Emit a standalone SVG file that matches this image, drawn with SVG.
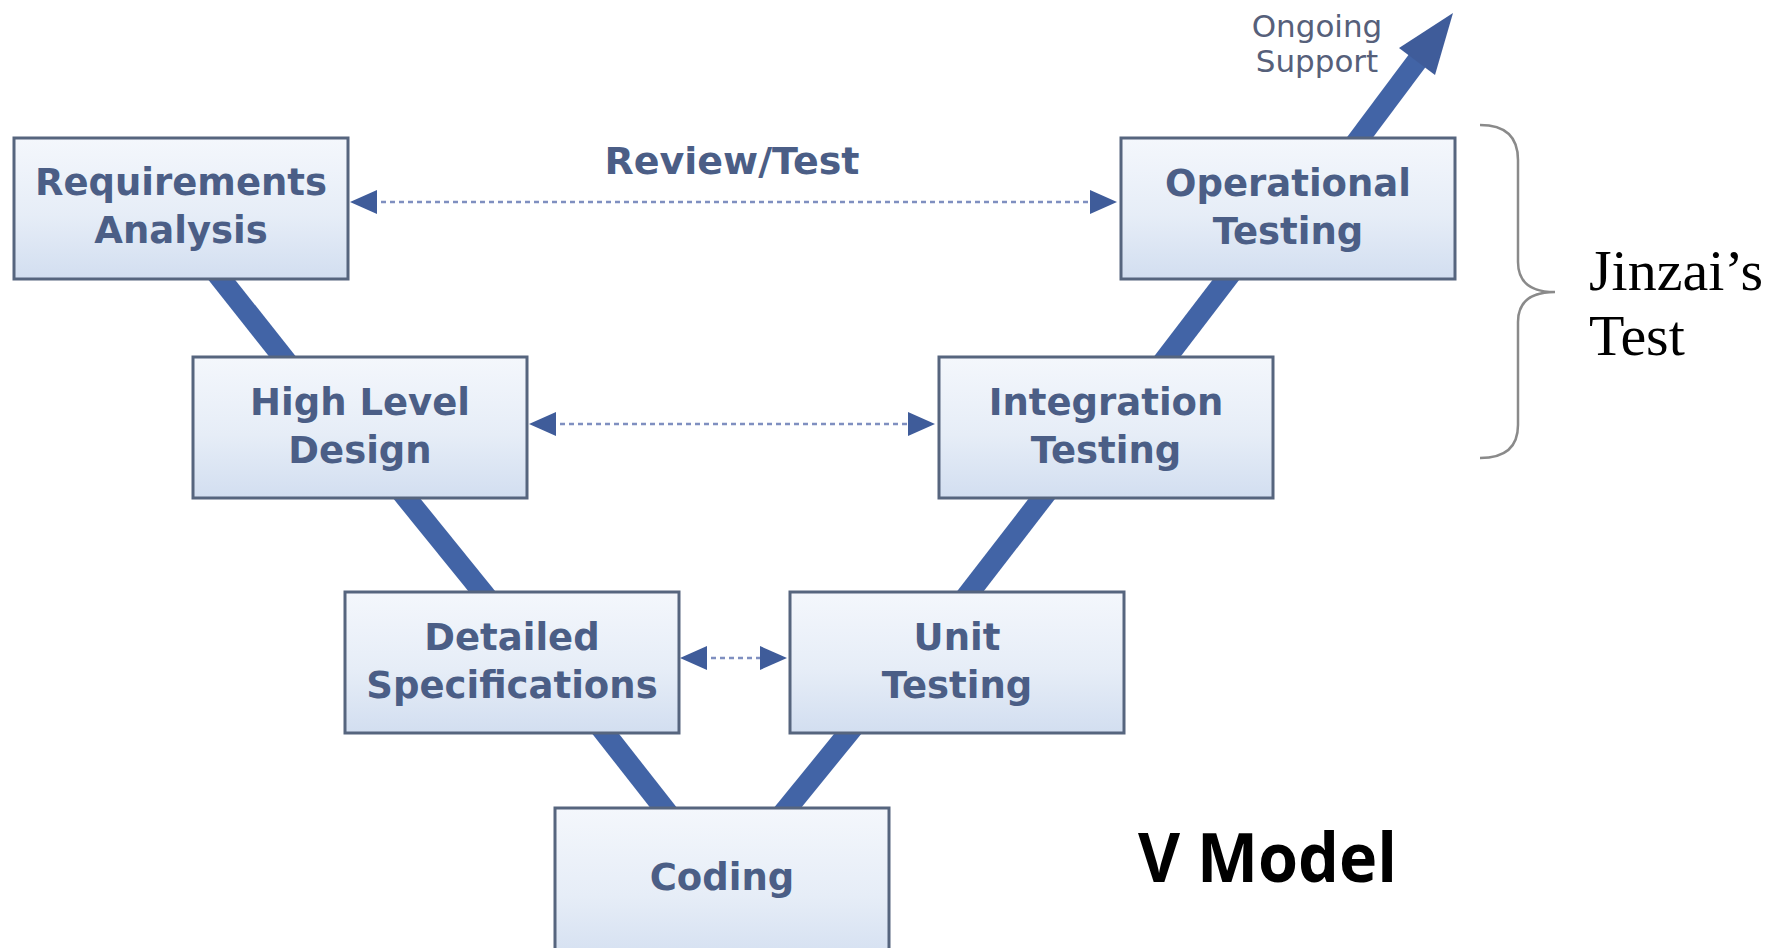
<svg xmlns="http://www.w3.org/2000/svg" width="1784" height="948" viewBox="0 0 1784 948">
<style>
.box{fill:url(#boxg);stroke:#56657e;stroke-width:3}
.lbl{font-family:"DejaVu Sans",Verdana,sans-serif;font-weight:bold;font-size:37px;fill:#4b5e86;text-anchor:middle}
.vline{stroke:#4264a6;stroke-width:21;stroke-linecap:butt;fill:none}
.dash{stroke:#7f8fc0;stroke-width:2.5;stroke-dasharray:5 4;fill:none}
.ah{fill:#3f5c9a}
</style>
<defs>
<linearGradient id="boxg" x1="0" y1="0" x2="0" y2="1">
<stop offset="0" stop-color="#f4f7fc"/>
<stop offset="0.55" stop-color="#e6edf7"/>
<stop offset="1" stop-color="#d2def0"/>
</linearGradient>
</defs>
<rect width="1784" height="948" fill="#ffffff"/>
<g id="connectors">
<line class="vline" x1="210" y1="265" x2="294" y2="371"/>
<line class="vline" x1="395" y1="484" x2="493" y2="605"/>
<line class="vline" x1="594" y1="719" x2="674" y2="821"/>
<line class="vline" x1="776" y1="822" x2="859" y2="720"/>
<line class="vline" x1="959" y1="606" x2="1054" y2="483"/>
<line class="vline" x1="1157" y1="370" x2="1238" y2="264"/>
<line class="vline" x1="1349" y1="152" x2="1420" y2="57"/>
<polygon class="ah" points="1453,13 1435,75 1399,48"/>
<line class="dash" x1="372" y1="202" x2="1094" y2="202"/>
<polygon class="ah" points="350,202 377,190 377,214"/>
<polygon class="ah" points="1117,202 1090,190 1090,214"/>
<line class="dash" x1="551" y1="424" x2="913" y2="424"/>
<polygon class="ah" points="529,424 556,412 556,436"/>
<polygon class="ah" points="935,424 908,412 908,436"/>
<line class="dash" x1="702" y1="658" x2="765" y2="658"/>
<polygon class="ah" points="680,658 707,646 707,670"/>
<polygon class="ah" points="787,658 760,646 760,670"/>
<text x="732" y="174" class="lbl" style="font-size:38px">Review/Test</text>
<text x="1317" y="37" font-family="DejaVu Sans, Verdana, sans-serif" font-size="31" fill="#56607a" text-anchor="middle">Ongoing</text>
<text x="1317" y="72" font-family="DejaVu Sans, Verdana, sans-serif" font-size="31" fill="#56607a" text-anchor="middle">Support</text>
</g>
<g id="req">
<rect class="box" x="14" y="138" width="334" height="141"/>
<text class="lbl" x="181" y="195">Requirements</text>
<text class="lbl" x="181" y="243">Analysis</text>
</g>
<g id="hld">
<rect class="box" x="193" y="357" width="334" height="141"/>
<text class="lbl" x="360" y="415">High Level</text>
<text class="lbl" x="360" y="463">Design</text>
</g>
<g id="ds">
<rect class="box" x="345" y="592" width="334" height="141"/>
<text class="lbl" x="512" y="650">Detailed</text>
<text class="lbl" x="512" y="698">Specifications</text>
</g>
<g id="coding">
<rect class="box" x="555" y="808" width="334" height="160"/>
<text class="lbl" x="722" y="890">Coding</text>
</g>
<g id="ut">
<rect class="box" x="790" y="592" width="334" height="141"/>
<text class="lbl" x="957" y="650">Unit</text>
<text class="lbl" x="957" y="698">Testing</text>
</g>
<g id="it">
<rect class="box" x="939" y="357" width="334" height="141"/>
<text class="lbl" x="1106" y="415">Integration</text>
<text class="lbl" x="1106" y="463">Testing</text>
</g>
<g id="ot">
<rect class="box" x="1121" y="138" width="334" height="141"/>
<text class="lbl" x="1288" y="196">Operational</text>
<text class="lbl" x="1288" y="244">Testing</text>
</g>
<g id="brace">
<path d="M1480,125 Q1518,125 1518,160 L1518,262 Q1518,292 1555,292 Q1518,292 1518,322 L1518,425 Q1518,458 1480,458" fill="none" stroke="#8a8a8a" stroke-width="2.5"/>
<text x="1589" y="290" font-family="Liberation Serif, Times New Roman, serif" font-size="58" fill="#000">Jinzai’s</text>
<text x="1589" y="355" font-family="Liberation Serif, Times New Roman, serif" font-size="58" fill="#000">Test</text>
</g>
<g id="title">
<text x="1138" y="882" font-family="Open Sans, Liberation Sans, sans-serif" font-weight="bold" font-size="68" fill="#000" textLength="259" lengthAdjust="spacingAndGlyphs">V Model</text>
</g>
</svg>
